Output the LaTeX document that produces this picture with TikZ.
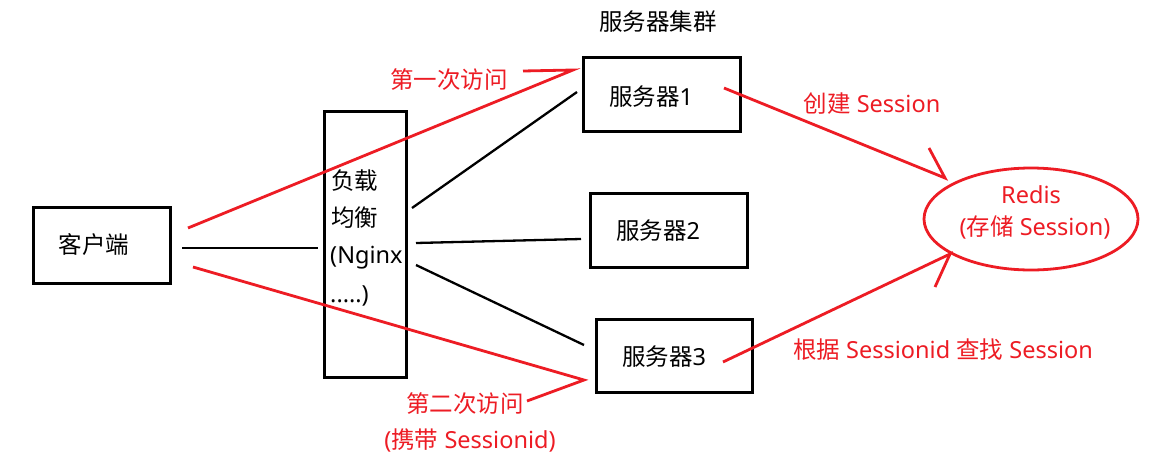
\documentclass[tikz,border=0pt]{standalone}
\usepackage{fontspec}
\setmainfont{Noto Sans}
\newfontfamily\cjk{Noto Sans CJK SC}
\definecolor{pred}{RGB}{237,28,36}
\begin{document}
\begin{tikzpicture}[x=1pt,y=-1pt,
  box/.style={draw=black,line width=3pt,inner sep=0pt},
  blk/.style={draw=black,line width=2.3pt},
  rl/.style={draw=pred,line width=2.8pt,line join=miter},
  rtxt/.style={text=pred,font=\fontsize{23.5}{26}\selectfont,inner sep=0pt},
  btxt/.style={text=black,font=\fontsize{23.5}{26}\selectfont,inner sep=0pt}]
\useasboundingbox (0,0) rectangle (1175,472);
\fill[white] (0,0) rectangle (1175,472);
% boxes
\node[box,minimum width=137pt,minimum height=76pt] (client) at (101.5,245) {};
\node[btxt] at (94,245) {\cjk 客户端};
\node[box,minimum width=82pt,minimum height=266pt] (lb) at (365,244) {};
\node[btxt,anchor=west] at (331,181) {\cjk 负载};
\node[btxt,anchor=west] at (331,218) {\cjk 均衡};
\node[btxt,anchor=west] at (330,258) {(Nginx};
\node[btxt,anchor=west] at (330,296) {.....)};
\node[box,minimum width=157pt,minimum height=74pt] (s1) at (661.5,94) {};
\node[btxt] at (651,97) {{\cjk 服务器}1};
\node[box,minimum width=157pt,minimum height=74pt] (s2) at (668.5,230) {};
\node[btxt] at (658,231) {{\cjk 服务器}2};
\node[box,minimum width=156pt,minimum height=73pt] (s3) at (674,355.5) {};
\node[btxt] at (664,357) {{\cjk 服务器}3};
\node[btxt] (title) at (658,22) {\cjk 服务器集群};
\draw[pred,line width=2.8pt] (1031,219) ellipse [x radius=107, y radius=51];
\node (redis) at (1031,219) {};
\node[rtxt] at (1031,195) {Redis};
\node[rtxt] at (1035,227) {({\cjk 存储} Session)};
% black connectors
\coordinate (c1) at (182,248); \coordinate (l1) at (318,248);
\draw[blk] (c1) -- (l1);
\coordinate (la) at (412,208); \coordinate (sa) at (577,92);
\coordinate (lb2) at (416,243); \coordinate (sb) at (581,239);
\coordinate (lc) at (416,265); \coordinate (sc) at (584,345);
\draw[blk] (la) -- (sa);
\draw[blk] (lb2) -- (sb);
\draw[blk] (lc) -- (sc);
% red arrows
\coordinate (r1s) at (188,228); \coordinate (r1e) at (573,70); \coordinate (r1b) at (523,71);
\draw[rl] (r1s) -- (r1e) -- (r1b);
\node[rtxt] at (449,80) {\cjk 第一次访问};
\coordinate (r2s) at (193,267); \coordinate (r2e) at (584,380); \coordinate (r2b) at (527,401);
\draw[rl] (r2s) -- (r2e) -- (r2b);
\node[rtxt] at (465,404) {\cjk 第二次访问};
\node[rtxt] at (470,440) {({\cjk 携带} Sessionid)};
\coordinate (r3s) at (724,88); \coordinate (r3e) at (945,178); \coordinate (r3b) at (929,148);
\draw[rl] (r3s) -- (r3e) -- (r3b);
\node[rtxt] at (872,104) {{\cjk 创建} Session};
\coordinate (r4s) at (723,362); \coordinate (r4e) at (950,254); \coordinate (r4b) at (935,287);
\draw[rl] (r4s) -- (r4e) -- (r4b);
\node[rtxt] at (943,350) {{\cjk 根据} Sessionid {\cjk 查找} Session};
\end{tikzpicture}
\end{document}
